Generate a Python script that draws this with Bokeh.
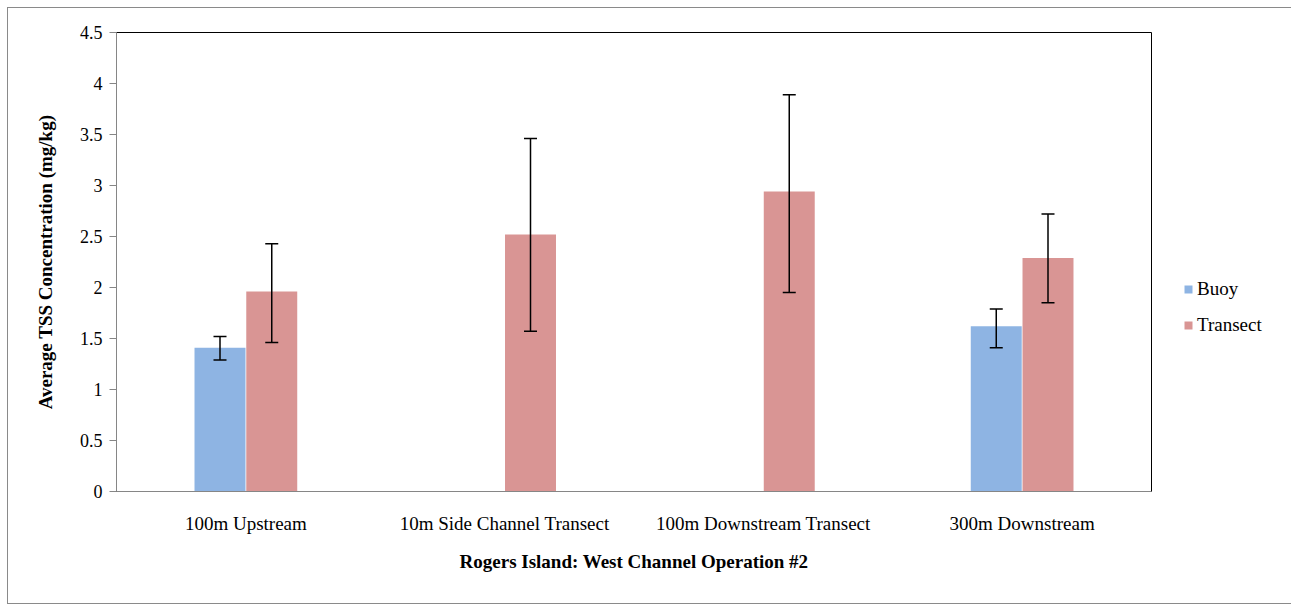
from bokeh.plotting import figure
from bokeh.models import (ColumnDataSource, FactorRange, Range1d, Whisker, TeeHead,
                          Legend, LegendItem, SingleIntervalTicker)
from bokeh.transform import dodge
from bokeh.embed import file_html
from bokeh.resources import INLINE

categories = ["100m Upstream", "10m Side Channel Transect", "100m Downstream Transect", "300m Downstream"]
buoy = [1.41, None, None, 1.62]
buoy_lo = [1.29, None, None, 1.41]
buoy_hi = [1.52, None, None, 1.79]
transect = [1.96, 2.52, 2.94, 2.29]
transect_lo = [1.46, 1.57, 1.95, 1.85]
transect_hi = [2.43, 3.46, 3.89, 2.72]

FONT = "Liberation Serif"
BUOY_C = "#8EB4E3"
TRAN_C = "#D99594"

idx = [i for i, v in enumerate(buoy) if v is not None]
src_b = ColumnDataSource(dict(cat=[categories[i] for i in idx], val=[buoy[i] for i in idx],
                              lo=[buoy_lo[i] for i in idx], hi=[buoy_hi[i] for i in idx]))
src_t = ColumnDataSource(dict(cat=categories, val=transect, lo=transect_lo, hi=transect_hi))

p = figure(frame_width=1035, frame_height=459,
           x_range=FactorRange(factors=categories, range_padding=0),
           y_range=Range1d(0, 4.5), output_backend="svg", toolbar_location=None,
           min_border_left=108, min_border_top=24, min_border_right=140, min_border_bottom=112)
p.styles = {"border": "1px solid #8a8a8a", "margin-left": "7px", "margin-top": "7px"}
p.outline_line_color = "#000000"
p.outline_line_width = 1
p.xgrid.visible = False
p.ygrid.visible = False

w = 0.197
rb = p.vbar(x=dodge("cat", -0.1, range=p.x_range), top="val", width=w, source=src_b,
            fill_color=BUOY_C, line_color=None)
rt = p.vbar(x=dodge("cat", 0.1, range=p.x_range), top="val", width=w, source=src_t,
            fill_color=TRAN_C, line_color=None)

for src, off in ((src_b, -0.1), (src_t, 0.1)):
    wk = Whisker(base=dodge("cat", off, range=p.x_range), upper="hi", lower="lo", source=src,
                 line_color="black", line_width=1.5, level="overlay",
                 upper_head=TeeHead(size=13, line_color="black", line_width=1.5),
                 lower_head=TeeHead(size=13, line_color="black", line_width=1.5))
    p.add_layout(wk)

# axes
p.yaxis.ticker = SingleIntervalTicker(interval=0.5, num_minor_ticks=0)
p.yaxis.major_label_overrides = {0: "0", 1: "1", 2: "2", 3: "3", 4: "4"}
p.yaxis.axis_line_color = "#868686"
p.yaxis.major_tick_line_color = "#868686"
p.yaxis.major_tick_in = 0
p.yaxis.major_tick_out = 7
p.yaxis.minor_tick_line_color = None
p.yaxis.major_label_text_font = FONT
p.yaxis.major_label_text_font_size = "18px"
p.yaxis.major_label_text_color = "black"
p.yaxis.major_label_standoff = 7
p.yaxis.axis_label = "Average TSS Concentration (mg/kg)"
p.yaxis.axis_label_text_font = FONT
p.yaxis.axis_label_text_font_size = "19px"
p.yaxis.axis_label_text_font_style = "bold"
p.yaxis.axis_label_text_color = "black"
p.yaxis.axis_label_standoff = 21

p.xaxis.axis_line_color = "#868686"
p.xaxis.major_tick_line_color = None
p.xaxis.minor_tick_line_color = None
p.xaxis.major_label_text_font = FONT
p.xaxis.major_label_text_font_size = "19px"
p.xaxis.major_label_text_color = "black"
p.xaxis.major_label_standoff = 15
p.xaxis.axis_label = "Rogers Island: West Channel Operation #2"
p.xaxis.axis_label_text_font = FONT
p.xaxis.axis_label_text_font_size = "19px"
p.xaxis.axis_label_text_font_style = "bold"
p.xaxis.axis_label_text_color = "black"
p.xaxis.axis_label_standoff = 14

legend = Legend(items=[LegendItem(label="Buoy", renderers=[rb]),
                       LegendItem(label="Transect", renderers=[rt])],
                location=(32, 155), border_line_color=None, background_fill_alpha=0,
                label_text_font=FONT, label_text_font_size="19px", label_text_color="black",
                glyph_width=10, glyph_height=10, label_standoff=4, spacing=14,
                label_height=19, padding=0, margin=0)
p.add_layout(legend, "right")

open("out.html", "w").write(file_html(p, INLINE))
